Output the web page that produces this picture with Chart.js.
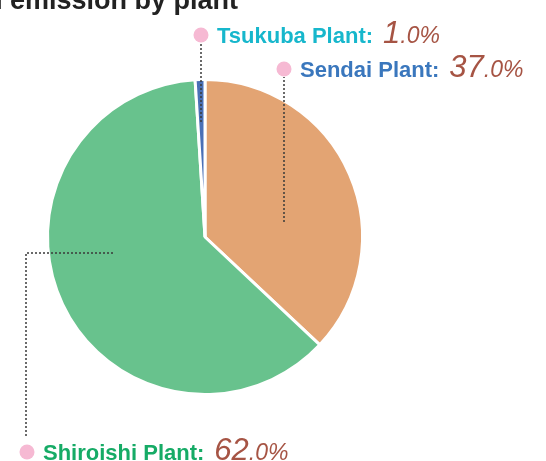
<!DOCTYPE html>
<html>
<head>
<meta charset="utf-8">
<script src="https://cdn.jsdelivr.net/npm/chart.js@4.4.0/dist/chart.umd.min.js"></script>
<style>
  html, body { margin: 0; padding: 0; background: #fff; }
</style>
</head>
<body>
<canvas id="pieChart" width="546" height="461"></canvas>
<script>
// Emission share by plant
var plants = ['Sendai Plant', 'Shiroishi Plant', 'Tsukuba Plant'];
var shares = [37.0, 62.0, 1.0];
var sliceColors = ['#E3A473', '#68C28D', '#4A70B6'];
var labelColors = ['#3A77BD', '#16AB66', '#17B7CC'];
var titleText = 'Carbon emission by plant';

var FONT = '"Liberation Sans", Arial, sans-serif';

// where each callout sits: angle fraction inside slice, radius fraction, label row
var callouts = [
    { t: 0.593, rf: 0.51, kind: 'up', labelY: 69 },
    { t: 0.568, rf: 0.59, kind: 'elbow', elbowX: 26, labelY: 452 },
    { t: 0.5, rf: 0.73, kind: 'up', labelY: 35 }
];

var calloutPlugin = {
    id: 'callouts',
    afterDatasetsDraw: function(chart) {
        var ctx = chart.ctx;
        var arcs = chart.getDatasetMeta(0).data;
        ctx.save();

        // title, clipped by top edge like the original
        ctx.font = 'bold 27px ' + FONT;
        ctx.fillStyle = '#222';
        ctx.textAlign = 'right';
        ctx.textBaseline = 'alphabetic';
        ctx.fillText(titleText, 238, 9);
        ctx.textAlign = 'left';

        arcs.forEach(function(arc, i) {
            var c = callouts[i];
            var p = arc.getProps(['x', 'y', 'startAngle', 'endAngle', 'outerRadius'], true);
            var a = p.startAngle + (p.endAngle - p.startAngle) * c.t;
            var ax = Math.round(p.x + Math.cos(a) * p.outerRadius * c.rf);
            var ay = Math.round(p.y + Math.sin(a) * p.outerRadius * c.rf);

            ctx.strokeStyle = '#3a3a3a';
            ctx.lineWidth = 1.5;
            ctx.setLineDash([2, 2]);
            ctx.beginPath();
            var dotX;
            if (c.kind === 'up') {
                ctx.moveTo(ax, ay);
                ctx.lineTo(ax, c.labelY + 8);
                dotX = ax;
            } else {
                ctx.moveTo(ax, ay);
                ctx.lineTo(c.elbowX, ay);
                ctx.lineTo(c.elbowX, c.labelY - 14);
                dotX = c.elbowX + 1;
            }
            ctx.stroke();
            ctx.setLineDash([]);

            // pink marker
            ctx.fillStyle = '#F6B9D3';
            ctx.beginPath();
            ctx.arc(dotX, c.labelY, 7.5, 0, Math.PI * 2);
            ctx.fill();

            // label text
            var tx = dotX + 16;
            var base = c.labelY + 8;
            var name = chart.data.labels[i] + ':';
            ctx.font = 'bold 22px ' + FONT;
            ctx.fillStyle = labelColors[i];
            ctx.fillText(name, tx, base);
            tx += ctx.measureText(name).width + 10;

            var txt = shares[i].toFixed(1);
            var intPart = txt.split('.')[0];
            var rest = '.' + txt.split('.')[1] + '%';
            ctx.fillStyle = '#A65444';
            ctx.font = 'italic 31px ' + FONT;
            ctx.fillText(intPart, tx, base);
            tx += ctx.measureText(intPart).width;
            ctx.font = 'italic 23px ' + FONT;
            ctx.fillText(rest, tx, base);
        });
        ctx.restore();
    }
};

var ctx = document.getElementById('pieChart').getContext('2d');
var pieChart = new Chart(ctx, {
    type: 'pie',
    data: {
        labels: plants,
        datasets: [{
            data: shares,
            backgroundColor: sliceColors,
            borderColor: '#ffffff',
            borderWidth: 3
        }]
    },
    options: {
        responsive: false,
        animation: false,
        devicePixelRatio: 1,
        layout: {
            padding: { left: 46, right: 182, top: 78, bottom: 65 }
        },
        plugins: {
            legend: { display: false },
            tooltip: { enabled: false },
            title: { display: false }
        }
    },
    plugins: [calloutPlugin]
});
</script>
</body>
</html>
